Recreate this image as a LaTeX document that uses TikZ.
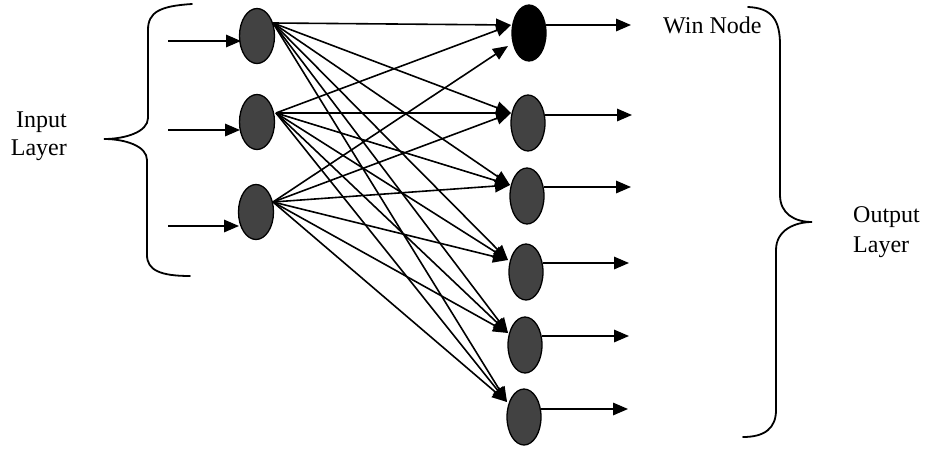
\documentclass[tikz,border=0pt]{standalone}
\usepackage{fontspec}
\setmainfont{Liberation Serif}
\usetikzlibrary{arrows.meta,shapes.geometric}
\begin{document}
\begin{tikzpicture}[x=1pt,y=-1pt,
  neuron/.style={ellipse,draw=black,line width=1.3pt,fill=black!74,minimum width=35pt,minimum height=55pt,inner sep=0pt},
  winner/.style={neuron,fill=black},
  conn/.style={line width=1.6pt,-{Triangle[length=15pt,width=12.5pt]}},
  brace/.style={line width=1.8pt,line cap=round},
  lbl/.style={inner sep=0pt,font=\fontsize{24}{29}\selectfont}]
\useasboundingbox (0,0) rectangle (925,450);
% input neurons
\node[neuron] (i1) at (257,36) {};
\node[neuron] (i2) at (257,122) {};
\node[neuron] (i3) at (256,212) {};
% output neurons
\node[winner,minimum width=34pt,minimum height=56pt] (o1) at (529,33) {};
\node[neuron,minimum width=34pt,minimum height=56pt] (o2) at (528,123) {};
\node[neuron,minimum width=34pt,minimum height=56pt] (o3) at (527,196) {};
\node[neuron,minimum width=34pt,minimum height=56pt] (o4) at (526,272) {};
\node[neuron,minimum width=34pt,minimum height=56pt] (o5) at (525,345) {};
\node[neuron,minimum width=34pt,minimum height=56pt] (o6) at (524,417) {};
% ports
\coordinate (p1) at (273,23);
\coordinate (p2) at (276,113);
\coordinate (p3) at (273,202);
\coordinate (q1) at (511,25);
\coordinate (q1b) at (508,46);
\coordinate (q2) at (511,113);
\coordinate (q3) at (510,185);
\coordinate (q4) at (508,260);
\coordinate (q5) at (508,333);
\coordinate (q6) at (507,402);
% input arrows
\coordinate (s1) at (168,41);
\coordinate (s2) at (168,130);
\coordinate (s3) at (168,226);
\coordinate (e1) at (241,41);
\coordinate (e2) at (240,130);
\coordinate (e3) at (239,226);
\draw[conn] (s1) -- (e1);
\draw[conn] (s2) -- (e2);
\draw[conn] (s3) -- (e3);
% output arrows
\coordinate (a1) at (546,25);  \coordinate (b1) at (631,25);
\coordinate (a2) at (545,115); \coordinate (b2) at (632,115);
\coordinate (a3) at (544,187); \coordinate (b3) at (631,187);
\coordinate (a4) at (543,263); \coordinate (b4) at (629,263);
\coordinate (a5) at (542,336); \coordinate (b5) at (629,336);
\coordinate (a6) at (541,409); \coordinate (b6) at (628,409);
\foreach \k in {1,...,6} \draw[conn] (a\k) -- (b\k);
% full connections
\draw[conn] (p1) -- (q1);
\draw[conn] (p2) -- (q1);
\draw[conn] (p3) -- (q1b);
\foreach \i in {1,2,3}
  \foreach \j in {2,...,6}
    \draw[conn] (p\i) -- (q\j);
% left brace
\draw[brace] (192,4) .. controls (160,6) and (148,12) .. (148,30) -- (148,118)
  .. controls (148,132) and (125,139) .. (104,139)
  .. controls (125,139) and (147,146) .. (147,160) -- (147,255)
  .. controls (147,270) and (160,276) .. (190,276);
% right brace
\draw[brace] (748,7) .. controls (772,8) and (780,20) .. (780,45) -- (780,195)
  .. controls (780,214) and (795,222) .. (812,222)
  .. controls (795,222) and (776,230) .. (776,250) -- (776,410)
  .. controls (776,428) and (765,437) .. (743,437);
% labels
\node[lbl,anchor=base east] (tin1) at (67,127) {Input};
\node[lbl,anchor=base east] (tin2) at (67,155) {Layer};
\node[lbl,anchor=base west] (twin) at (663,33) {Win Node};
\node[lbl,anchor=base west] (tout1) at (853,222) {Output};
\node[lbl,anchor=base west] (tout2) at (853,252) {Layer};
\end{tikzpicture}
\end{document}
